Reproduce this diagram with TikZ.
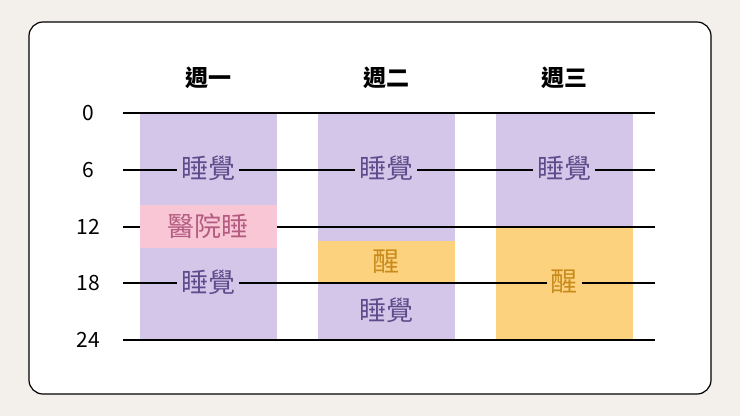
\documentclass[tikz,border=0pt]{standalone}
\usepackage{fontspec}
\newfontfamily\cjk{Noto Sans CJK TC}
\definecolor{bg}{HTML}{F3EFEB}
\definecolor{pur}{HTML}{D3C6E8}
\definecolor{purt}{HTML}{5E4B8B}
\definecolor{pnk}{HTML}{F9C6D6}
\definecolor{pnkt}{HTML}{B35C80}
\definecolor{org}{HTML}{FCD27E}
\definecolor{orgt}{HTML}{C98A1C}
\tikzset{lbl/.style={font=\cjk\fontsize{27}{27}\selectfont, inner sep=4pt},
 hdr/.style={font=\cjk\bfseries\fontsize{23}{23}\selectfont},
 num/.style={font=\cjk\fontsize{21}{21}\selectfont, anchor=center},
 hl/.style={line width=1.6pt}}
\begin{document}
\begin{tikzpicture}[x=1pt,y=-1pt]
\fill[bg] (0,0) rectangle (740,416);
\draw[fill=white, line width=1.2pt, rounded corners=14pt] (29,22) rectangle (711,394);
\node[hdr] (h1) at (208,78) {週一};
\node[hdr] (h2) at (386,78) {週二};
\node[hdr] (h3) at (564,78) {週三};
\fill[pur] (140,113) rectangle (277,340);
\fill[pur] (318,113) rectangle (455,340);
\fill[org] (318,241) rectangle (455,282);
\fill[pur] (496,113) rectangle (633,227);
\fill[org] (496,227) rectangle (633,340);
\foreach \v/\y in {0/113,6/170,12/227,18/283,24/340}{
 \node[num] (n\v) at (88,\y) {\v};
 \draw[hl] (123,\y) -- (655,\y);
}
\fill[pnk] (140,205) rectangle (277,248);
\node[lbl, text=pnkt] (a3) at (208,226) {醫院睡};
\node[lbl, text=purt, fill=pur] (a1) at (208,168) {睡覺};
\node[lbl, text=purt, fill=pur] (a2) at (208,282) {睡覺};
\node[lbl, text=purt, fill=pur] (b1) at (386,168) {睡覺};
\node[lbl, text=orgt] (b2) at (386,262) {醒};
\node[lbl, text=purt] (b3) at (386,310) {睡覺};
\node[lbl, text=purt, fill=pur] (c1) at (564,168) {睡覺};
\node[lbl, text=orgt, fill=org] (c2) at (564,282) {醒};
\end{tikzpicture}
\end{document}
